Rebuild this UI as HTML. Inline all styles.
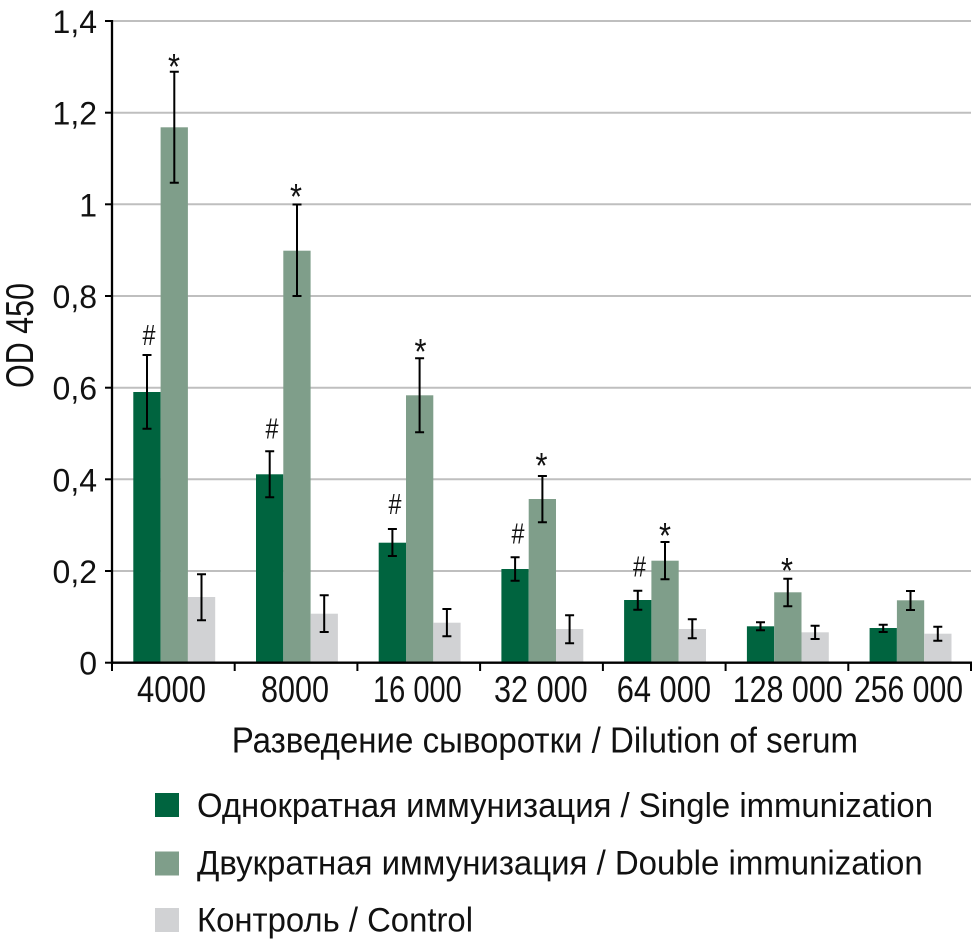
<!DOCTYPE html>
<html>
<head>
<meta charset="utf-8">
<style>
  html, body { margin: 0; padding: 0; background: #ffffff; }
  body { width: 975px; height: 940px; overflow: hidden; }
  svg { display: block; }
  text { font-family: "Liberation Sans", "DejaVu Sans", sans-serif; fill: #111; }
</style>
</head>
<body>
<svg width="975" height="940" viewBox="0 0 975 940" xmlns="http://www.w3.org/2000/svg">
  <rect x="0" y="0" width="975" height="940" fill="#ffffff"/>

  <!-- gridlines -->
  <g stroke="#bfbfbf" stroke-width="2">
    <line x1="112" y1="21" x2="971" y2="21"/>
    <line x1="112" y1="112.7" x2="971" y2="112.7"/>
    <line x1="112" y1="204.3" x2="971" y2="204.3"/>
    <line x1="112" y1="296" x2="971" y2="296"/>
    <line x1="112" y1="387.7" x2="971" y2="387.7"/>
    <line x1="112" y1="479.3" x2="971" y2="479.3"/>
    <line x1="112" y1="571" x2="971" y2="571"/>
  </g>

  <!-- bars -->
  <g>
    <!-- 4000 -->
    <rect x="133.3" y="392" width="27.3" height="270.7" fill="#00643f"/>
    <rect x="160.6" y="127.3" width="27.3" height="535.4" fill="#7f9e8a"/>
    <rect x="187.9" y="597" width="27.3" height="65.7" fill="#d1d2d4"/>
    <!-- 8000 -->
    <rect x="256.0" y="474.3" width="27.3" height="188.4" fill="#00643f"/>
    <rect x="283.3" y="250.7" width="27.3" height="412" fill="#7f9e8a"/>
    <rect x="310.6" y="613.7" width="27.3" height="49" fill="#d1d2d4"/>
    <!-- 16000 -->
    <rect x="378.7" y="542.7" width="27.3" height="120" fill="#00643f"/>
    <rect x="406.0" y="395.3" width="27.3" height="267.4" fill="#7f9e8a"/>
    <rect x="433.3" y="622.7" width="27.3" height="40" fill="#d1d2d4"/>
    <!-- 32000 -->
    <rect x="501.4" y="569" width="27.3" height="93.7" fill="#00643f"/>
    <rect x="528.7" y="499" width="27.3" height="163.7" fill="#7f9e8a"/>
    <rect x="556.0" y="629" width="27.3" height="33.7" fill="#d1d2d4"/>
    <!-- 64000 -->
    <rect x="624.1" y="600" width="27.3" height="62.7" fill="#00643f"/>
    <rect x="651.4" y="560.7" width="27.3" height="102" fill="#7f9e8a"/>
    <rect x="678.7" y="629" width="27.3" height="33.7" fill="#d1d2d4"/>
    <!-- 128000 -->
    <rect x="746.9" y="626.3" width="27.3" height="36.4" fill="#00643f"/>
    <rect x="774.2" y="592.3" width="27.3" height="70.4" fill="#7f9e8a"/>
    <rect x="801.5" y="632.3" width="27.3" height="30.4" fill="#d1d2d4"/>
    <!-- 256000 -->
    <rect x="869.6" y="628" width="27.3" height="34.7" fill="#00643f"/>
    <rect x="896.9" y="600.3" width="27.3" height="62.4" fill="#7f9e8a"/>
    <rect x="924.2" y="633.7" width="27.3" height="29" fill="#d1d2d4"/>
  </g>

  <!-- error bars -->
  <g stroke="#000" stroke-width="2" fill="none">
    <!-- 4000 -->
    <path d="M147 355V428.7M142.5 355H151.5M142.5 428.7H151.5"/>
    <path d="M174.3 71.7V182.7M169.8 71.7H178.8M169.8 182.7H178.8"/>
    <path d="M201.5 574.3V620.3M197 574.3H206M197 620.3H206"/>
    <!-- 8000 -->
    <path d="M269.7 451.3V497.3M265.2 451.3H274.2M265.2 497.3H274.2"/>
    <path d="M297 204.5V296M292.5 204.5H301.5M292.5 296H301.5"/>
    <path d="M324.2 595.3V632M319.7 595.3H328.7M319.7 632H328.7"/>
    <!-- 16000 -->
    <path d="M392.4 529V556M387.9 529H396.9M387.9 556H396.9"/>
    <path d="M419.6 358.3V432.3M415.1 358.3H424.1M415.1 432.3H424.1"/>
    <path d="M446.9 609V636.3M442.4 609H451.4M442.4 636.3H451.4"/>
    <!-- 32000 -->
    <path d="M515.1 557.3V580.7M510.6 557.3H519.6M510.6 580.7H519.6"/>
    <path d="M542.4 476V522.3M537.9 476H546.9M537.9 522.3H546.9"/>
    <path d="M569.6 615.3V643.3M565.1 615.3H574.1M565.1 643.3H574.1"/>
    <!-- 64000 -->
    <path d="M637.8 590.7V609.7M633.3 590.7H642.3M633.3 609.7H642.3"/>
    <path d="M665 542V579.3M660.5 542H669.5M660.5 579.3H669.5"/>
    <path d="M692.3 619.3V638.3M687.8 619.3H696.8M687.8 638.3H696.8"/>
    <!-- 128000 -->
    <path d="M760.5 622.3V630.3M756 622.3H765M756 630.3H765"/>
    <path d="M787.8 578.7V606.3M783.3 578.7H792.3M783.3 606.3H792.3"/>
    <path d="M815.1 625.7V639M810.6 625.7H819.6M810.6 639H819.6"/>
    <!-- 256000 -->
    <path d="M883.2 624.7V632M878.7 624.7H887.7M878.7 632H887.7"/>
    <path d="M910.5 591V610M906 591H915M906 610H915"/>
    <path d="M937.8 626.7V640.7M933.3 626.7H942.3M933.3 640.7H942.3"/>
  </g>

  <!-- significance markers -->
  <g font-size="36" text-anchor="middle">
    <text x="174" y="78.8" textLength="12" lengthAdjust="spacingAndGlyphs">*</text>
    <text x="296" y="209.1" textLength="12" lengthAdjust="spacingAndGlyphs">*</text>
    <text x="420.5" y="364.1" textLength="12" lengthAdjust="spacingAndGlyphs">*</text>
    <text x="541.5" y="477.8" textLength="12" lengthAdjust="spacingAndGlyphs">*</text>
    <text x="665" y="547.8" textLength="12" lengthAdjust="spacingAndGlyphs">*</text>
    <text x="787" y="582.8" textLength="12" lengthAdjust="spacingAndGlyphs">*</text>
  </g>
  <g font-size="29" text-anchor="middle">
    <text x="149" y="345" textLength="13" lengthAdjust="spacingAndGlyphs">#</text>
    <text x="272" y="438.3" textLength="13" lengthAdjust="spacingAndGlyphs">#</text>
    <text x="395" y="514" textLength="13" lengthAdjust="spacingAndGlyphs">#</text>
    <text x="518" y="543.3" textLength="13" lengthAdjust="spacingAndGlyphs">#</text>
    <text x="639.5" y="576.7" textLength="13" lengthAdjust="spacingAndGlyphs">#</text>
  </g>

  <!-- axes -->
  <g stroke="#000" stroke-width="2.3">
    <line x1="112" y1="20" x2="112" y2="664"/>
    <line x1="111" y1="662.7" x2="972" y2="662.7"/>
  </g>
  <g stroke="#000" stroke-width="2">
    <!-- y ticks -->
    <line x1="105" y1="21" x2="112" y2="21"/>
    <line x1="105" y1="112.7" x2="112" y2="112.7"/>
    <line x1="105" y1="204.3" x2="112" y2="204.3"/>
    <line x1="105" y1="296" x2="112" y2="296"/>
    <line x1="105" y1="387.7" x2="112" y2="387.7"/>
    <line x1="105" y1="479.3" x2="112" y2="479.3"/>
    <line x1="105" y1="571" x2="112" y2="571"/>
    <line x1="105" y1="662.7" x2="112" y2="662.7"/>
    <!-- x ticks -->
    <line x1="112" y1="662.7" x2="112" y2="671"/>
    <line x1="234.7" y1="662.7" x2="234.7" y2="671"/>
    <line x1="357.4" y1="662.7" x2="357.4" y2="671"/>
    <line x1="480.1" y1="662.7" x2="480.1" y2="671"/>
    <line x1="602.9" y1="662.7" x2="602.9" y2="671"/>
    <line x1="725.6" y1="662.7" x2="725.6" y2="671"/>
    <line x1="848.3" y1="662.7" x2="848.3" y2="671"/>
    <line x1="971" y1="662.7" x2="971" y2="671"/>
  </g>

  <!-- y tick labels -->
  <g font-size="32" text-anchor="end">
    <text x="97" y="33">1,4</text>
    <text x="97" y="124.7">1,2</text>
    <text x="97" y="216.3">1</text>
    <text x="97" y="308">0,8</text>
    <text x="97" y="399.7">0,6</text>
    <text x="97" y="491.3">0,4</text>
    <text x="97" y="583">0,2</text>
    <text x="97" y="674.7">0</text>
  </g>

  <!-- y axis title -->
  <text font-size="39" transform="translate(33,388) rotate(-90)" textLength="105" lengthAdjust="spacingAndGlyphs">OD 450</text>

  <!-- x tick labels -->
  <g font-size="37">
    <text x="137" y="702" textLength="69" lengthAdjust="spacingAndGlyphs">4000</text>
    <text x="261" y="702" textLength="68" lengthAdjust="spacingAndGlyphs">8000</text>
    <text x="373" y="702" textLength="88.7" lengthAdjust="spacingAndGlyphs">16 000</text>
    <text x="494" y="702" textLength="93.7" lengthAdjust="spacingAndGlyphs">32 000</text>
    <text x="616.7" y="702" textLength="94.3" lengthAdjust="spacingAndGlyphs">64 000</text>
    <text x="732.7" y="702" textLength="110" lengthAdjust="spacingAndGlyphs">128 000</text>
    <text x="854" y="702" textLength="109" lengthAdjust="spacingAndGlyphs">256 000</text>
  </g>

  <!-- x axis title -->
  <text x="231.7" y="752.7" font-size="36" textLength="626.3" lengthAdjust="spacingAndGlyphs">Разведение сыворотки / Dilution of serum</text>

  <!-- legend -->
  <rect x="155" y="793" width="24" height="24" fill="#00643f"/>
  <rect x="155" y="851.5" width="24" height="24" fill="#7f9e8a"/>
  <rect x="155" y="908" width="24" height="24" fill="#d1d2d4"/>
  <g font-size="34">
    <text x="197" y="817" textLength="736" lengthAdjust="spacingAndGlyphs">Однократная иммунизация / Single immunization</text>
    <text x="197" y="874.5" textLength="725.7" lengthAdjust="spacingAndGlyphs">Двукратная иммунизация / Double immunization</text>
    <text x="197" y="931.7" textLength="276" lengthAdjust="spacingAndGlyphs">Контроль / Control</text>
  </g>
</svg>
</body>
</html>
